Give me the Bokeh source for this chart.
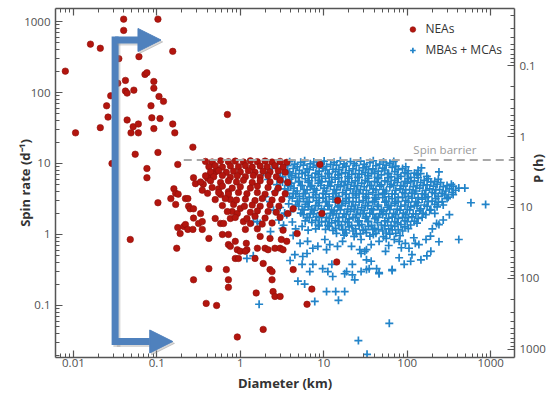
from bokeh.plotting import figure
from bokeh.models import (Range1d, LogScale, LogAxis, FixedTicker, CustomJSTickFormatter,
                          Label, Arrow, NormalHead, Legend, LegendItem)
from bokeh.embed import file_html
from bokeh.resources import INLINE
import math

# ---------------- data (diameter km, spin rate 1/day) ----------------
nea_points = [
    (0.008, 200), (0.0106, 27), (0.016, 480), (0.021, 420), (0.021, 32), (0.025, 65), (0.026, 45),
    (0.028, 90), (0.029, 10), (0.034, 135), (0.035, 300), (0.040, 1080), (0.040, 750), (0.042, 148),
    (0.042, 105), (0.044, 98), (0.044, 41), (0.049, 27), (0.052, 33), (0.053, 108), (0.055, 13.5),
    (0.060, 36), (0.060, 27), (0.061, 320), (0.072, 180), (0.076, 190), (0.076, 8.5), (0.076, 6.3),
    (0.085, 65), (0.087, 44), (0.092, 143), (0.092, 115), (0.092, 31), (0.103, 1080), (0.103, 14.3),
    (0.106, 88), (0.109, 43), (0.12, 75), (0.155, 380), (0.155, 36), (0.164, 27), (0.178, 9.7),
    (0.27, 17), (0.70, 49),
    (0.275, 6.3), (0.29, 5.2), (0.16, 4.4), (0.168, 3.8), (0.18, 3.7), (0.22, 3.2), (0.103, 2.8),
    (0.048, 0.85), (0.147, 3.2), (0.168, 2.65), (0.173, 0.64), (0.235, 3.2), (0.24, 2.5), (0.25, 2.3),
    (0.275, 1.7), (0.178, 1.25), (0.19, 1.03), (0.21, 1.3), (0.22, 1.38), (0.235, 1.18), (0.27, 1.18),
    (0.275, 0.23), (0.316, 1.43), (0.36, 5.1), (0.35, 4.2), (0.405, 6.2), (0.44, 7.0), (0.46, 7.2),
    (0.50, 7.6), (0.53, 8.2), (0.275, 2.3), (0.334, 1.97), (0.35, 1.52), (0.55, 4.4), (0.58, 3.66),
    (0.50, 1.68), (0.58, 1.43), (0.63, 1.43), (0.72, 4.0), (0.76, 3.1), (0.83, 2.65), (0.80, 2.1),
    (0.76, 1.68), (0.92, 1.97), (1.0, 2.33), (1.09, 1.52), (1.2, 1.68), (0.42, 0.88), (0.61, 1.0),
    (0.72, 1.0), (0.87, 0.8), (0.92, 0.61), (1.0, 0.58), (1.2, 0.61), (1.6, 0.64), (1.98, 0.64),
    (2.15, 0.61), (2.6, 0.64), (0.35, 1.18),
    (0.72, 0.72), (0.76, 0.68), (0.87, 0.46), (0.95, 0.46), (1.18, 0.75), (1.15, 0.58), (1.5, 0.46),
    (1.73, 0.94), (1.88, 0.39), (2.27, 0.32), (2.47, 0.157), (2.6, 0.134), (3.0, 0.134), (1.55, 0.15),
    (0.42, 0.33), (0.68, 0.32), (0.72, 0.23), (0.72, 0.18), (0.39, 0.107), (0.52, 0.10),
    (1.88, 0.046), (0.92, 0.036),
    (14.3, 0.41), (4.3, 0.32), (7.2, 0.17), (6.3, 0.104), (2.4, 0.30), (2.4, 0.23), (2.27, 0.88),
    (3.1, 0.85), (3.6, 0.8), (3.0, 0.64), (3.25, 0.61), (4.8, 1.03), (9.0, 9.7), (14.7, 3.0),
    (9.5, 1.98), (4.3, 2.3), (3.7, 1.97),
    (0.383, 10.7), (0.46, 10.5), (0.58, 10.9), (0.72, 10.6), (0.87, 10.8), (1.09, 10.5), (1.32, 10.9),
    (1.6, 10.6), (1.98, 10.8), (2.4, 10.5), (3.0, 10.7), (3.6, 10.4),
    (0.42, 9.0), (0.5, 9.3), (0.61, 8.9), (0.76, 9.2), (0.95, 9.0), (1.15, 9.3), (1.39, 8.9),
    (1.73, 9.2), (2.1, 9.0), (2.6, 9.3), (3.25, 8.9),
    (0.44, 7.6), (0.55, 7.9), (0.68, 7.5), (0.83, 7.8), (1.0, 7.6), (1.25, 7.9), (1.5, 7.5),
    (1.88, 7.8), (2.27, 7.6), (2.85, 7.9), (3.45, 7.5),
    (0.383, 6.7), (0.48, 6.5), (0.61, 6.8), (0.76, 6.4), (0.92, 6.7), (1.15, 6.5), (1.43, 6.8),
    (1.73, 6.4), (2.15, 6.7), (2.7, 6.5),
    (0.334, 5.5), (0.44, 5.7), (0.58, 5.4), (0.72, 5.7), (0.9, 5.5), (1.09, 5.8), (1.39, 5.4),
    (1.73, 5.7), (2.27, 5.5), (3.0, 5.8), (3.7, 5.4),
    (0.46, 4.6), (0.61, 4.8), (0.8, 4.5), (1.0, 4.7), (1.32, 4.5), (1.6, 4.8), (2.15, 4.6), (2.85, 4.5),
    (0.405, 3.8), (0.55, 3.9), (0.72, 3.7), (0.95, 3.9), (1.2, 3.75), (1.6, 3.9), (1.98, 3.7),
    (2.6, 3.85), (3.45, 3.75),
    (0.5, 3.1), (0.66, 3.2), (0.9, 3.05), (1.15, 3.15), (1.5, 3.0), (1.83, 3.2), (2.4, 3.05), (3.15, 3.1),
    (0.61, 2.55), (1.12, 2.5), (1.39, 2.6), (1.73, 2.5), (2.27, 2.6), (2.9, 2.5),
    (0.7, 2.1), (1.32, 2.05), (1.6, 2.15), (2.15, 2.1), (2.7, 2.05),
    (0.87, 1.74), (1.5, 1.8), (1.98, 1.7), (3.0, 1.75),
    (1.32, 1.43), (1.83, 1.4), (2.4, 1.45),
    (1.15, 1.18), (1.6, 1.2), (3.25, 1.15),
]

mba_points = [
    # core of the cloud
    (3.9, 10.6), (4.5, 9.8), (5.3, 10.4), (5.9, 10.9), (6.9, 9.9), (7.6, 10.5), (9.2, 10.1), (10.1, 10.8),
    (12.1, 9.7), (13.3, 10.4), (15.8, 10.9), (17.5, 9.9), (20.9, 10.6), (23.1, 10.0), (27.6, 10.8), (30.5, 9.7),
    (35.8, 10.3), (39.2, 10.9), (46.8, 9.8), (52, 10.5), (62, 10.1), (69, 10.7),
    (3.7, 9.3), (4.3, 8.5), (4.8, 9.0), (5.7, 9.5), (6.3, 8.4), (7.5, 8.9), (8.2, 9.4), (9.8, 8.6), (10.8, 9.1),
    (12.9, 8.3), (14.2, 9.5), (16.9, 8.8), (18.6, 9.2), (22.4, 8.4), (24.5, 9.4), (29.6, 8.7), (32.4, 9.0),
    (38.8, 8.4), (42.2, 9.3), (51, 8.6), (56, 9.5), (66, 8.8), (73, 9.2), (88, 8.5), (96, 9.0),
    (3.0, 7.3), (3.5, 8.1), (3.9, 7.6), (4.6, 7.2), (5.1, 8.0), (6.0, 7.5), (6.7, 8.2), (8.0, 7.3), (8.8, 7.8),
    (10.5, 8.1), (11.6, 7.2), (13.8, 7.7), (15.2, 8.2), (18.2, 7.4), (20.1, 7.9), (24, 7.2), (26.5, 8.0),
    (31.6, 7.5), (34.3, 8.2), (40.8, 7.3), (45.1, 7.8), (54, 8.1), (60, 7.2), (71, 7.7), (78, 8.2), (94, 7.4),
    (103, 7.9), (122, 7.3), (135, 8.0),
    (3.2, 6.5), (3.8, 7.1), (4.1, 6.7), (5.0, 6.4), (5.5, 7.2), (6.5, 6.8), (7.2, 6.4), (8.6, 7.0), (9.4, 6.6),
    (11.2, 7.2), (12.4, 6.4), (14.8, 6.9), (16.3, 7.2), (19.4, 6.5), (21.6, 7.0), (25.5, 6.4), (28.5, 7.1),
    (33.7, 6.7), (37.3, 7.2), (43.9, 6.4), (49, 6.9), (58, 7.2), (64, 6.5), (76, 7.0), (84, 6.6), (100, 7.2),
    (110, 6.4), (131, 6.9), (145, 7.2), (172, 6.6),
    (3.0, 6.3), (3.5, 5.6), (3.9, 6.0), (4.6, 6.3), (5.1, 5.6), (6.0, 6.1), (6.7, 5.7), (7.9, 6.3), (8.8, 5.8),
    (10.5, 6.2), (11.6, 5.6), (13.7, 6.0), (15.2, 6.3), (18.1, 5.6), (20.1, 6.2), (23.9, 5.7), (26.5, 6.3),
    (31.5, 5.8), (34.4, 6.2), (40.7, 5.6), (45.2, 6.1), (54, 5.7), (60, 6.3), (71, 5.8), (78, 6.2), (94, 5.6),
    (103, 6.1), (122, 5.7), (135, 6.3), (160, 5.8), (179, 6.1), (214, 5.6), (236, 6.0),
    (3.2, 5.5), (3.8, 4.9), (4.1, 5.3), (5.0, 5.5), (5.5, 4.9), (6.5, 5.4), (7.2, 4.9), (8.6, 5.3), (9.4, 5.5),
    (11.2, 4.9), (12.4, 5.4), (14.8, 5.0), (16.3, 5.5), (19.4, 5.1), (21.6, 5.4), (25.5, 4.9), (28.5, 5.3),
    (33.7, 5.5), (37.3, 4.9), (43.9, 5.4), (49, 5.0), (58, 5.5), (64, 5.1), (76, 5.4), (84, 4.9), (100, 5.3),
    (110, 5.5), (131, 4.9), (145, 5.4), (173, 5.0), (192, 5.5), (228, 5.1), (252, 5.4), (300, 4.9),
    (3.4, 4.4), (4.0, 4.8), (4.4, 4.5), (5.3, 4.9), (5.8, 4.3), (6.9, 4.7), (7.7, 4.4), (9.2, 4.9), (10.1, 4.5),
    (12.0, 4.8), (13.3, 4.3), (15.8, 4.7), (17.5, 4.9), (20.9, 4.4), (23.1, 4.8), (27.5, 4.3), (30.5, 4.7),
    (35.7, 4.9), (39.3, 4.4), (46.9, 4.8), (52, 4.3), (62, 4.7), (69, 4.9), (82, 4.4), (90, 4.8), (107, 4.3),
    (118, 4.7), (141, 4.5), (155, 4.9), (186, 4.4), (206, 4.8), (245, 4.3), (270, 4.7), (320, 4.4), (355, 4.8),
    (3.7, 4.2), (4.3, 3.8), (4.8, 4.1), (5.7, 3.75), (6.3, 4.25), (7.5, 3.9), (8.2, 4.2), (9.8, 3.8), (10.8, 4.1),
    (12.9, 3.75), (14.2, 4.25), (16.9, 3.9), (18.6, 4.2), (22.4, 3.8), (24.5, 4.1), (29.6, 3.75), (32.4, 4.2),
    (38.8, 3.9), (42.2, 4.25), (51, 3.8), (56, 4.1), (66, 3.75), (73, 4.2), (88, 3.9), (96, 4.25), (114, 3.8),
    (127, 4.1), (151, 3.75), (167, 4.2), (199, 3.9), (220, 4.25), (262, 3.8), (290, 4.1), (345, 3.9), (380, 4.2),
    (3.9, 3.4), (4.6, 3.75), (5.1, 3.45), (6.0, 3.8), (6.7, 3.35), (8.0, 3.65), (8.8, 3.3), (10.5, 3.7),
    (11.6, 3.4), (13.8, 3.8), (15.2, 3.45), (18.2, 3.7), (20.1, 3.3), (24, 3.6), (26.5, 3.8), (31.6, 3.4),
    (34.3, 3.7), (40.8, 3.3), (45.1, 3.65), (54, 3.8), (60, 3.4), (71, 3.7), (78, 3.35), (94, 3.75), (103, 3.45),
    (122, 3.8), (135, 3.3), (161, 3.65), (178, 3.4), (214, 3.75), (235, 3.45), (280, 3.6), (310, 3.35), (355, 3.65),
    (4.2, 3.25), (4.8, 2.95), (5.7, 3.2), (6.3, 2.9), (7.5, 3.3), (8.2, 3.0), (9.8, 3.25), (10.8, 2.9),
    (12.9, 3.15), (14.2, 3.3), (16.9, 2.95), (18.6, 3.2), (22.4, 2.9), (24.5, 3.3), (29.6, 3.0), (32.4, 3.25),
    (38.8, 2.9), (42.2, 3.15), (51, 3.3), (56, 2.95), (66, 3.2), (73, 2.9), (88, 3.3), (96, 3.0), (114, 3.25),
    (127, 2.9), (151, 3.15), (167, 3.3), (199, 2.95), (220, 3.2), (262, 2.9), (300, 3.2),
    (4.6, 2.6), (5.1, 2.9), (6.0, 2.65), (6.7, 2.85), (8.0, 2.55), (8.8, 2.8), (10.5, 2.9), (11.6, 2.6),
    (13.8, 2.85), (15.2, 2.55), (18.2, 2.75), (20.1, 2.9), (24, 2.6), (26.5, 2.85), (31.6, 2.55), (34.3, 2.8),
    (40.8, 2.92), (45.1, 2.6), (54, 2.85), (60, 2.55), (71, 2.75), (78, 2.9), (94, 2.6), (103, 2.85),
    (122, 2.55), (135, 2.8), (161, 2.6), (178, 2.9), (214, 2.65), (236, 2.85), (270, 2.6),
    (5.0, 2.5), (5.5, 2.25), (6.5, 2.45), (7.2, 2.28), (8.6, 2.55), (9.4, 2.3), (11.2, 2.5), (12.4, 2.24),
    (14.8, 2.45), (16.3, 2.55), (19.4, 2.28), (21.6, 2.5), (25.5, 2.24), (28.5, 2.4), (33.7, 2.55), (37.3, 2.3),
    (43.9, 2.48), (49, 2.24), (58, 2.42), (64, 2.55), (76, 2.28), (84, 2.5), (100, 2.25), (110, 2.45),
    (131, 2.55), (145, 2.3), (173, 2.5), (192, 2.25), (228, 2.45),
    (5.3, 2.0), (5.8, 2.22), (6.9, 1.97), (7.7, 2.18), (9.2, 2.02), (10.1, 2.24), (12.0, 1.98), (13.3, 2.15),
    (15.8, 2.22), (17.5, 1.96), (20.9, 2.12), (23.1, 2.24), (27.5, 1.98), (30.5, 2.18), (35.7, 2.0), (39.3, 2.22),
    (46.9, 1.97), (52, 2.14), (62, 2.24), (69, 1.98), (82, 2.2), (90, 2.0), (107, 2.22), (118, 1.96),
    (141, 2.15), (155, 2.0), (186, 2.2), (214, 1.98),
    (5.7, 1.9), (6.3, 1.75), (7.5, 1.95), (8.2, 1.78), (9.8, 1.93), (10.8, 1.74), (12.9, 1.88), (14.2, 1.97),
    (16.9, 1.76), (18.6, 1.92), (22.4, 1.74), (24.5, 1.9), (29.6, 1.97), (32.4, 1.78), (38.8, 1.94), (42.2, 1.74),
    (51, 1.9), (56, 1.97), (66, 1.76), (73, 1.92), (88, 1.74), (96, 1.9), (114, 1.77), (127, 1.95), (151, 1.75),
    (167, 1.9),
    (6.0, 1.55), (6.7, 1.72), (8.0, 1.58), (8.8, 1.74), (10.5, 1.53), (11.6, 1.68), (13.8, 1.56), (15.2, 1.73),
    (18.2, 1.52), (20.1, 1.66), (24, 1.74), (26.5, 1.55), (31.6, 1.7), (34.3, 1.53), (40.8, 1.67), (45.1, 1.74),
    (54, 1.55), (60, 1.7), (71, 1.52), (78, 1.68), (94, 1.56), (103, 1.73), (122, 1.54), (135, 1.68),
    (7.2, 1.48), (8.6, 1.36), (9.4, 1.5), (11.2, 1.35), (12.4, 1.46), (14.8, 1.52), (16.3, 1.36), (19.4, 1.48),
    (21.6, 1.34), (25.5, 1.5), (28.5, 1.38), (33.7, 1.52), (37.3, 1.35), (43.9, 1.47), (49, 1.36), (58, 1.5),
    (64, 1.34), (76, 1.46), (84, 1.38), (100, 1.52), (110, 1.36), (131, 1.45),
    (8.0, 1.2), (8.8, 1.32), (10.5, 1.18), (11.6, 1.3), (13.8, 1.22), (15.2, 1.33), (18.2, 1.17), (20.1, 1.28),
    (24, 1.2), (26.5, 1.33), (31.6, 1.18), (34.3, 1.3), (40.8, 1.22), (45.1, 1.17), (54, 1.32), (60, 1.2),
    (71, 1.3), (78, 1.17), (94, 1.28), (103, 1.21),
    (12.9, 1.14), (14.2, 1.04), (16.9, 1.16), (18.6, 1.05), (22.4, 1.12), (24.5, 1.03), (29.6, 1.15),
    (32.4, 1.06), (38.8, 1.17), (42.2, 1.04), (51, 1.12), (56, 1.05), (66, 1.16), (73, 1.04), (88, 1.12),
    (17.5, 0.98), (23.1, 0.94), (27.5, 1.02), (35.7, 0.95), (39.3, 1.0), (52, 0.93), (62, 1.01), (82, 0.96),
    # sparse points among the NEAs
    (1.2, 0.46), (1.43, 0.5), (1.43, 1.52), (1.6, 1.52), (1.73, 1.43), (2.75, 5.05), (2.27, 2.9), (2.6, 4.0),
    (2.15, 5.95), (2.0, 3.4), (2.5, 2.2), (1.9, 7.5), (2.4, 8.5), (2.8, 9.8), (3.2, 1.22), (2.9, 1.6),
    (3.4, 2.0), (2.3, 1.1), (1.68, 0.104), (3.0, 2.4), (3.6, 1.9), (4.2, 1.5), (3.3, 1.35), (4.6, 1.2),
    (5.5, 1.3), (6.5, 1.15), (4.0, 2.1), (3.8, 2.7),
    # right-hand outliers
    (490, 4.5), (580, 2.8), (870, 2.65), (240, 1.38), (225, 1.43), (415, 0.85), (240, 0.79), (192, 0.58),
    (172, 0.5), (146, 0.44), (114, 0.52), (110, 0.42), (92, 0.38), (80, 0.47), (66, 0.32), (46, 0.29),
    (55, 0.58), (35, 0.33), (37, 0.42), (31, 0.58), (138, 0.72), (168, 0.85), (320, 1.9), (270, 1.6),
    (200, 1.2), (190, 0.95), (120, 0.9), (125, 0.75), (95, 0.75), (70, 0.85), (85, 0.65), (60, 0.7),
    (105, 0.64), (80, 0.8), (148, 8.7), (240, 7.6), (415, 4.5), (338, 5.1),
    # lower sparse tail
    (4.3, 0.97), (5.2, 0.75), (6.4, 0.8), (7.4, 0.64), (8.5, 0.68), (10.3, 0.85), (10.8, 0.61), (11.8, 0.72),
    (14.6, 0.68), (16.8, 0.8), (21.5, 0.68), (27, 0.61), (28, 0.85), (32.5, 0.61), (37, 0.72), (46, 0.8),
    (56, 0.88), (5.6, 0.49), (3.95, 0.43), (5.5, 0.38), (7.4, 0.38), (9.7, 0.33), (11.2, 0.3), (12.5, 0.38),
    (17.8, 0.28), (22, 0.27), (22, 0.38), (32.5, 0.32), (46, 0.28), (66, 0.31), (5.9, 0.2), (7.8, 0.114),
    (13.9, 0.157), (15, 0.118), (4.9, 0.22), (4.5, 0.52), (6.3, 0.54), (6.8, 0.3), (12.8, 0.256),
    (18.8, 0.3), (23.5, 0.23), (28, 0.54), (32.5, 0.44), (43, 0.33), (28, 0.3), (17.8, 0.157), (10.8, 0.157),
    (26, 0.032), (61, 0.056), (33, 0.0205),
]

x_ticks = [0.01, 0.1, 1, 10, 100, 1000]
y_ticks = [0.1, 1, 10, 100, 1000]
period_ticks = [0.1, 1, 10, 100, 1000]
hours_per_day = 24.0

spin_barrier = 11.2          # d^-1  (P ~ 2.2 h)
barrier_start_km = 0.21
barrier_label_km = 283

arrow_x_km = 0.0316
arrow_top_spin = 549
arrow_bottom_spin = 0.0311
arrow_top_tip_km = 0.112
arrow_bottom_tip_km = 0.155
shadow_dx = 1.05     # ~2 px to the right on the log axis
shadow_dy = 0.94     # ~2 px down on the log axis

x_lim = (0.0061, 1930)
y_lim = (0.0185, 1525)

# ---------------- figure ----------------
nea_d = [d for d, s in nea_points]
nea_s = [s for d, s in nea_points]
mba_d = [d for d, s in mba_points]
mba_s = [s for d, s in mba_points]

def minor(decades):
    return [m * 10.0 ** e for e in decades for m in range(2, 10)]

FONT = "Open Sans"
AX = "#555555"
TITLE = "#333333"

p = figure(width=558, height=397, x_axis_type="log", y_axis_type="log",
           x_range=Range1d(*x_lim), y_range=Range1d(*y_lim),
           output_backend="svg", toolbar_location=None,
           min_border_left=55, min_border_right=41, min_border_top=8, min_border_bottom=40)
p.outline_line_color = None
p.grid.visible = False

bottom = p.xaxis[0]
left = p.yaxis[0]

p.extra_y_ranges = {"period": Range1d(start=hours_per_day / y_lim[0], end=hours_per_day / y_lim[1])}
p.extra_y_scales = {"period": LogScale()}

fmt = CustomJSTickFormatter(code="return tick.toString();")
blank = CustomJSTickFormatter(code="return '';")

bottom.ticker = FixedTicker(ticks=x_ticks, minor_ticks=minor(range(-3, 4)))
bottom.formatter = fmt
left.ticker = FixedTicker(ticks=y_ticks, minor_ticks=minor(range(-2, 4)))
left.formatter = fmt

top = LogAxis(ticker=FixedTicker(ticks=x_ticks, minor_ticks=minor(range(-3, 4))), formatter=blank,
              major_label_text_font_size="0px", major_label_standoff=0)
p.add_layout(top, "above")
right = LogAxis(y_range_name="period",
                ticker=FixedTicker(ticks=period_ticks, minor_ticks=minor(range(-2, 4))), formatter=fmt)
p.add_layout(right, "right")

for ax in [bottom, left, top, right]:
    ax.axis_line_color = AX
    ax.axis_line_width = 1.5
    ax.major_tick_line_color = AX
    ax.minor_tick_line_color = AX
    ax.major_tick_line_width = 1.2
    ax.minor_tick_line_width = 1
    ax.major_tick_in = 7
    ax.major_tick_out = 0
    ax.minor_tick_in = 4
    ax.minor_tick_out = 0
    ax.major_label_text_font = FONT
    ax.major_label_text_color = "#505050"
    ax.axis_label_text_font = FONT
    ax.axis_label_text_font_style = "bold"
    ax.axis_label_text_font_size = "13px"
    ax.axis_label_text_color = TITLE
for ax in [bottom, left, right]:
    ax.major_label_text_font_size = "11.5px"
    ax.major_label_standoff = 5
bottom.major_label_standoff = 1
top.major_label_text_font_size = "0px"

bottom.axis_label = "Diameter (km)"
bottom.axis_label_standoff = 4
left.axis_label = "Spin rate (d\u207b\u00b9)"
left.axis_label_standoff = -13
right.axis_label = "P (h)" + "\u00a0" * 6   # trailing spaces nudge the title down a little
right.axis_label_standoff = -11
right.axis_label_orientation = math.pi / 2   # reads bottom-to-top like the left title

# scatter
blue = p.scatter(mba_d, mba_s, marker="cross", size=8, line_color="#2284c9", line_width=1.7)
red = p.scatter(nea_d, nea_s, marker="circle", size=6.5, fill_color="#b3150e",
                line_color="#8f110b", line_width=0.6)

# spin barrier
p.line([barrier_start_km, x_lim[1]], [spin_barrier, spin_barrier], line_color="#a8a8a8",
       line_width=2, line_dash="8 5")
p.add_layout(Label(x=barrier_label_km, y=spin_barrier, text="Spin barrier", text_align="center",
                   text_baseline="bottom", y_offset=3, text_font=FONT, text_font_size="11.5px",
                   text_color="#9a9a9a"))

# blue bracket arrow (with a soft shadow)
ac = "#4f81bd"
for col, alpha, fx, fy in [("#8c8c8c", 0.35, shadow_dx, shadow_dy), (ac, 1.0, 1.0, 1.0)]:
    p.line([arrow_x_km * fx, arrow_x_km * fx], [arrow_top_spin * fy, arrow_bottom_spin * fy],
           line_color=col, line_alpha=alpha, line_width=7, line_cap="square")
    for tip, yy in [(arrow_top_tip_km, arrow_top_spin), (arrow_bottom_tip_km, arrow_bottom_spin)]:
        p.add_layout(Arrow(end=NormalHead(size=23, fill_color=col, fill_alpha=alpha, line_color=col,
                                          line_alpha=alpha, line_width=1),
                           x_start=arrow_x_km * fx, y_start=yy * fy, x_end=tip * fx, y_end=yy * fy,
                           line_color=col, line_alpha=alpha, line_width=7))

legend = Legend(items=[LegendItem(label="NEAs", renderers=[red]),
                       LegendItem(label="MBAs + MCAs", renderers=[blue])],
                location="top_right", border_line_color=None, background_fill_alpha=0,
                margin=12, padding=10, glyph_width=14, glyph_height=16, spacing=4, label_standoff=6,
                label_text_font=FONT, label_text_font_size="12px", label_text_color=TITLE)
p.add_layout(legend)

open("out.html", "w").write(file_html(p, INLINE))
